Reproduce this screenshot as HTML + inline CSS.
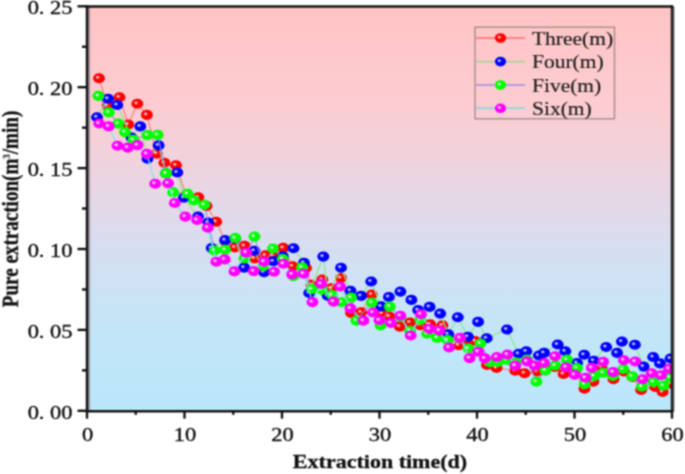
<!DOCTYPE html>
<html><head><meta charset="utf-8"><style>
html,body{margin:0;padding:0;background:#fff;}
svg{display:block;font-family:"Liberation Serif",serif;}
</style></head><body>
<svg width="685" height="474" viewBox="0 0 685 474">
<defs>
<filter id="bl" x="0" y="0" width="685" height="474" filterUnits="userSpaceOnUse" color-interpolation-filters="sRGB"><feConvolveMatrix order="3" kernelMatrix="1 2 1 2 4 2 1 2 1" edgeMode="duplicate"/></filter>
<linearGradient id="bg" x1="0" y1="0" x2="0" y2="1">
<stop offset="0" stop-color="rgb(255,196,196)"/>
<stop offset="0.24" stop-color="rgb(252,204,209)"/>
<stop offset="0.355" stop-color="rgb(243,209,218)"/>
<stop offset="0.48" stop-color="rgb(229,216,231)"/>
<stop offset="0.6" stop-color="rgb(214,222,240)"/>
<stop offset="0.73" stop-color="rgb(201,228,246)"/>
<stop offset="0.86" stop-color="rgb(192,230,249)"/>
<stop offset="1" stop-color="rgb(186,230,250)"/>
</linearGradient>
<radialGradient id="gR" cx="0.5" cy="0.5" r="0.55" fx="0.35" fy="0.37">
<stop offset="0" stop-color="#ffe0e0"/>
<stop offset="0.07" stop-color="#ffe0e0"/>
<stop offset="0.2" stop-color="#ff8080"/>
<stop offset="0.37" stop-color="#ff0000"/>
<stop offset="0.85" stop-color="#ff0000"/>
<stop offset="1" stop-color="#e00000"/>
</radialGradient>
<radialGradient id="gB" cx="0.5" cy="0.5" r="0.55" fx="0.35" fy="0.37">
<stop offset="0" stop-color="#e0e0ff"/>
<stop offset="0.07" stop-color="#e0e0ff"/>
<stop offset="0.2" stop-color="#8080ff"/>
<stop offset="0.37" stop-color="#0000ff"/>
<stop offset="0.85" stop-color="#0000ff"/>
<stop offset="1" stop-color="#0000d8"/>
</radialGradient>
<radialGradient id="gG" cx="0.5" cy="0.5" r="0.55" fx="0.35" fy="0.37">
<stop offset="0" stop-color="#e8ffe8"/>
<stop offset="0.07" stop-color="#e8ffe8"/>
<stop offset="0.2" stop-color="#90ff90"/>
<stop offset="0.37" stop-color="#00ff00"/>
<stop offset="0.85" stop-color="#00ff00"/>
<stop offset="1" stop-color="#00dc00"/>
</radialGradient>
<radialGradient id="gM" cx="0.5" cy="0.5" r="0.55" fx="0.35" fy="0.37">
<stop offset="0" stop-color="#ffe8ff"/>
<stop offset="0.07" stop-color="#ffe8ff"/>
<stop offset="0.2" stop-color="#ff90ff"/>
<stop offset="0.37" stop-color="#ff00ff"/>
<stop offset="0.85" stop-color="#ff00ff"/>
<stop offset="1" stop-color="#e000e0"/>
</radialGradient>
<clipPath id="clip"><rect x="87.0" y="6.3" width="585.0" height="404.5"/></clipPath>
</defs>
<g filter="url(#bl)">
<rect width="685" height="474" fill="#fff"/>
<rect x="87.0" y="6.3" width="585.0" height="404.5" fill="url(#bg)"/>
<g clip-path="url(#clip)">
<polyline points="99,78.2 107.7,105.7 119.5,97.2 128.3,124.5 137.3,103.8 146.9,114.9 156.8,153.6 164.4,162.8 176,165.2 186,195 198.3,197.3 206.5,206 216.2,221.8 225.5,241.5 235,247.5 244.5,245.9 254.6,258.5 265.4,255.3 273.3,255.8 283.3,247.9 292.7,266.2 306,268 311.5,284.7 322.3,279.5 331.4,288.3 341,278 351.1,312.9 361.1,312.3 371.8,294.5 382.4,313.5 389.5,316.5 399.8,326.6 410,322.5 420.3,325.2 430.2,324.3 442.4,325.4 448,336 458.7,345.3 467,340 475.3,341 487,365 496.6,368 515.3,370.7 524.6,373.2 537.2,371.5 545.4,369.3 555,367 563.6,374 575,372 584.5,388.7 593.4,381.6 601.7,366.9 613.5,379.2 623.9,371.5 632.5,377 641.2,389.9 655.2,387 662.7,392 671,383.6" fill="none" stroke="#ff7878" stroke-width="1.2" stroke-opacity="0.9" stroke-linejoin="round"/>
<ellipse cx="99" cy="78.2" rx="5.95" ry="5.05" fill="url(#gR)"/>
<ellipse cx="107.7" cy="105.7" rx="5.95" ry="5.05" fill="url(#gR)"/>
<ellipse cx="119.5" cy="97.2" rx="5.95" ry="5.05" fill="url(#gR)"/>
<ellipse cx="128.3" cy="124.5" rx="5.95" ry="5.05" fill="url(#gR)"/>
<ellipse cx="137.3" cy="103.8" rx="5.95" ry="5.05" fill="url(#gR)"/>
<ellipse cx="146.9" cy="114.9" rx="5.95" ry="5.05" fill="url(#gR)"/>
<ellipse cx="156.8" cy="153.6" rx="5.95" ry="5.05" fill="url(#gR)"/>
<ellipse cx="164.4" cy="162.8" rx="5.95" ry="5.05" fill="url(#gR)"/>
<ellipse cx="176" cy="165.2" rx="5.95" ry="5.05" fill="url(#gR)"/>
<ellipse cx="186" cy="195" rx="5.95" ry="5.05" fill="url(#gR)"/>
<ellipse cx="198.3" cy="197.3" rx="5.95" ry="5.05" fill="url(#gR)"/>
<ellipse cx="206.5" cy="206" rx="5.95" ry="5.05" fill="url(#gR)"/>
<ellipse cx="216.2" cy="221.8" rx="5.95" ry="5.05" fill="url(#gR)"/>
<ellipse cx="225.5" cy="241.5" rx="5.95" ry="5.05" fill="url(#gR)"/>
<ellipse cx="235" cy="247.5" rx="5.95" ry="5.05" fill="url(#gR)"/>
<ellipse cx="244.5" cy="245.9" rx="5.95" ry="5.05" fill="url(#gR)"/>
<ellipse cx="254.6" cy="258.5" rx="5.95" ry="5.05" fill="url(#gR)"/>
<ellipse cx="265.4" cy="255.3" rx="5.95" ry="5.05" fill="url(#gR)"/>
<ellipse cx="273.3" cy="255.8" rx="5.95" ry="5.05" fill="url(#gR)"/>
<ellipse cx="283.3" cy="247.9" rx="5.95" ry="5.05" fill="url(#gR)"/>
<ellipse cx="292.7" cy="266.2" rx="5.95" ry="5.05" fill="url(#gR)"/>
<ellipse cx="306" cy="268" rx="5.95" ry="5.05" fill="url(#gR)"/>
<ellipse cx="311.5" cy="284.7" rx="5.95" ry="5.05" fill="url(#gR)"/>
<ellipse cx="322.3" cy="279.5" rx="5.95" ry="5.05" fill="url(#gR)"/>
<ellipse cx="331.4" cy="288.3" rx="5.95" ry="5.05" fill="url(#gR)"/>
<ellipse cx="341" cy="278" rx="5.95" ry="5.05" fill="url(#gR)"/>
<ellipse cx="351.1" cy="312.9" rx="5.95" ry="5.05" fill="url(#gR)"/>
<ellipse cx="361.1" cy="312.3" rx="5.95" ry="5.05" fill="url(#gR)"/>
<ellipse cx="371.8" cy="294.5" rx="5.95" ry="5.05" fill="url(#gR)"/>
<ellipse cx="382.4" cy="313.5" rx="5.95" ry="5.05" fill="url(#gR)"/>
<ellipse cx="389.5" cy="316.5" rx="5.95" ry="5.05" fill="url(#gR)"/>
<ellipse cx="399.8" cy="326.6" rx="5.95" ry="5.05" fill="url(#gR)"/>
<ellipse cx="410" cy="322.5" rx="5.95" ry="5.05" fill="url(#gR)"/>
<ellipse cx="420.3" cy="325.2" rx="5.95" ry="5.05" fill="url(#gR)"/>
<ellipse cx="430.2" cy="324.3" rx="5.95" ry="5.05" fill="url(#gR)"/>
<ellipse cx="442.4" cy="325.4" rx="5.95" ry="5.05" fill="url(#gR)"/>
<ellipse cx="448" cy="336" rx="5.95" ry="5.05" fill="url(#gR)"/>
<ellipse cx="458.7" cy="345.3" rx="5.95" ry="5.05" fill="url(#gR)"/>
<ellipse cx="467" cy="340" rx="5.95" ry="5.05" fill="url(#gR)"/>
<ellipse cx="475.3" cy="341" rx="5.95" ry="5.05" fill="url(#gR)"/>
<ellipse cx="487" cy="365" rx="5.95" ry="5.05" fill="url(#gR)"/>
<ellipse cx="496.6" cy="368" rx="5.95" ry="5.05" fill="url(#gR)"/>
<ellipse cx="515.3" cy="370.7" rx="5.95" ry="5.05" fill="url(#gR)"/>
<ellipse cx="524.6" cy="373.2" rx="5.95" ry="5.05" fill="url(#gR)"/>
<ellipse cx="537.2" cy="371.5" rx="5.95" ry="5.05" fill="url(#gR)"/>
<ellipse cx="545.4" cy="369.3" rx="5.95" ry="5.05" fill="url(#gR)"/>
<ellipse cx="555" cy="367" rx="5.95" ry="5.05" fill="url(#gR)"/>
<ellipse cx="563.6" cy="374" rx="5.95" ry="5.05" fill="url(#gR)"/>
<ellipse cx="575" cy="372" rx="5.95" ry="5.05" fill="url(#gR)"/>
<ellipse cx="584.5" cy="388.7" rx="5.95" ry="5.05" fill="url(#gR)"/>
<ellipse cx="593.4" cy="381.6" rx="5.95" ry="5.05" fill="url(#gR)"/>
<ellipse cx="601.7" cy="366.9" rx="5.95" ry="5.05" fill="url(#gR)"/>
<ellipse cx="613.5" cy="379.2" rx="5.95" ry="5.05" fill="url(#gR)"/>
<ellipse cx="623.9" cy="371.5" rx="5.95" ry="5.05" fill="url(#gR)"/>
<ellipse cx="632.5" cy="377" rx="5.95" ry="5.05" fill="url(#gR)"/>
<ellipse cx="641.2" cy="389.9" rx="5.95" ry="5.05" fill="url(#gR)"/>
<ellipse cx="655.2" cy="387" rx="5.95" ry="5.05" fill="url(#gR)"/>
<ellipse cx="662.7" cy="392" rx="5.95" ry="5.05" fill="url(#gR)"/>
<ellipse cx="671" cy="383.6" rx="5.95" ry="5.05" fill="url(#gR)"/>
<polyline points="97,117.2 108.1,98.8 117.3,105 131.5,137.5 140.3,126.4 147.5,158.8 158.6,145.4 166.1,173.4 177.3,172.5 183.9,197.7 198,216.6 208.2,222.6 211.7,248.1 225.1,240.1 235.3,238.5 244.2,267.6 254.4,250.8 264.1,272.2 273.4,261.3 282.8,256.3 293.5,248.2 304,262.8 309.2,293 323.3,256.6 327.7,295.7 341,267.7 350.5,290.7 361.1,295.9 371.2,281.5 381.2,306.4 388.9,297 400.4,291.6 411.4,299.9 418.2,310.1 429.6,306.9 440.2,313.6 448.3,334.2 457.8,317.3 467.9,336.7 478.1,321.9 486.7,338.2 507,329.5 518.7,353.8 526.3,351.3 538.9,355.5 544.1,352.9 557.7,344.5 565.3,351.2 577.1,363 584.2,354.8 593.8,360.7 606.2,347 617.1,352.9 621.9,341.6 634.9,344.8 643.6,366.6 653.2,357 660,363.4 670.5,358.5" fill="none" stroke="#8ee88e" stroke-width="1.3" stroke-opacity="1" stroke-linejoin="round"/>
<ellipse cx="97" cy="117.2" rx="5.95" ry="5.05" fill="url(#gB)"/>
<ellipse cx="108.1" cy="98.8" rx="5.95" ry="5.05" fill="url(#gB)"/>
<ellipse cx="117.3" cy="105" rx="5.95" ry="5.05" fill="url(#gB)"/>
<ellipse cx="131.5" cy="137.5" rx="5.95" ry="5.05" fill="url(#gB)"/>
<ellipse cx="140.3" cy="126.4" rx="5.95" ry="5.05" fill="url(#gB)"/>
<ellipse cx="147.5" cy="158.8" rx="5.95" ry="5.05" fill="url(#gB)"/>
<ellipse cx="158.6" cy="145.4" rx="5.95" ry="5.05" fill="url(#gB)"/>
<ellipse cx="166.1" cy="173.4" rx="5.95" ry="5.05" fill="url(#gB)"/>
<ellipse cx="177.3" cy="172.5" rx="5.95" ry="5.05" fill="url(#gB)"/>
<ellipse cx="183.9" cy="197.7" rx="5.95" ry="5.05" fill="url(#gB)"/>
<ellipse cx="198" cy="216.6" rx="5.95" ry="5.05" fill="url(#gB)"/>
<ellipse cx="208.2" cy="222.6" rx="5.95" ry="5.05" fill="url(#gB)"/>
<ellipse cx="211.7" cy="248.1" rx="5.95" ry="5.05" fill="url(#gB)"/>
<ellipse cx="225.1" cy="240.1" rx="5.95" ry="5.05" fill="url(#gB)"/>
<ellipse cx="235.3" cy="238.5" rx="5.95" ry="5.05" fill="url(#gB)"/>
<ellipse cx="244.2" cy="267.6" rx="5.95" ry="5.05" fill="url(#gB)"/>
<ellipse cx="254.4" cy="250.8" rx="5.95" ry="5.05" fill="url(#gB)"/>
<ellipse cx="264.1" cy="272.2" rx="5.95" ry="5.05" fill="url(#gB)"/>
<ellipse cx="273.4" cy="261.3" rx="5.95" ry="5.05" fill="url(#gB)"/>
<ellipse cx="282.8" cy="256.3" rx="5.95" ry="5.05" fill="url(#gB)"/>
<ellipse cx="293.5" cy="248.2" rx="5.95" ry="5.05" fill="url(#gB)"/>
<ellipse cx="304" cy="262.8" rx="5.95" ry="5.05" fill="url(#gB)"/>
<ellipse cx="309.2" cy="293" rx="5.95" ry="5.05" fill="url(#gB)"/>
<ellipse cx="323.3" cy="256.6" rx="5.95" ry="5.05" fill="url(#gB)"/>
<ellipse cx="327.7" cy="295.7" rx="5.95" ry="5.05" fill="url(#gB)"/>
<ellipse cx="341" cy="267.7" rx="5.95" ry="5.05" fill="url(#gB)"/>
<ellipse cx="350.5" cy="290.7" rx="5.95" ry="5.05" fill="url(#gB)"/>
<ellipse cx="361.1" cy="295.9" rx="5.95" ry="5.05" fill="url(#gB)"/>
<ellipse cx="371.2" cy="281.5" rx="5.95" ry="5.05" fill="url(#gB)"/>
<ellipse cx="381.2" cy="306.4" rx="5.95" ry="5.05" fill="url(#gB)"/>
<ellipse cx="388.9" cy="297" rx="5.95" ry="5.05" fill="url(#gB)"/>
<ellipse cx="400.4" cy="291.6" rx="5.95" ry="5.05" fill="url(#gB)"/>
<ellipse cx="411.4" cy="299.9" rx="5.95" ry="5.05" fill="url(#gB)"/>
<ellipse cx="418.2" cy="310.1" rx="5.95" ry="5.05" fill="url(#gB)"/>
<ellipse cx="429.6" cy="306.9" rx="5.95" ry="5.05" fill="url(#gB)"/>
<ellipse cx="440.2" cy="313.6" rx="5.95" ry="5.05" fill="url(#gB)"/>
<ellipse cx="448.3" cy="334.2" rx="5.95" ry="5.05" fill="url(#gB)"/>
<ellipse cx="457.8" cy="317.3" rx="5.95" ry="5.05" fill="url(#gB)"/>
<ellipse cx="467.9" cy="336.7" rx="5.95" ry="5.05" fill="url(#gB)"/>
<ellipse cx="478.1" cy="321.9" rx="5.95" ry="5.05" fill="url(#gB)"/>
<ellipse cx="486.7" cy="338.2" rx="5.95" ry="5.05" fill="url(#gB)"/>
<ellipse cx="507" cy="329.5" rx="5.95" ry="5.05" fill="url(#gB)"/>
<ellipse cx="518.7" cy="353.8" rx="5.95" ry="5.05" fill="url(#gB)"/>
<ellipse cx="526.3" cy="351.3" rx="5.95" ry="5.05" fill="url(#gB)"/>
<ellipse cx="538.9" cy="355.5" rx="5.95" ry="5.05" fill="url(#gB)"/>
<ellipse cx="544.1" cy="352.9" rx="5.95" ry="5.05" fill="url(#gB)"/>
<ellipse cx="557.7" cy="344.5" rx="5.95" ry="5.05" fill="url(#gB)"/>
<ellipse cx="565.3" cy="351.2" rx="5.95" ry="5.05" fill="url(#gB)"/>
<ellipse cx="577.1" cy="363" rx="5.95" ry="5.05" fill="url(#gB)"/>
<ellipse cx="584.2" cy="354.8" rx="5.95" ry="5.05" fill="url(#gB)"/>
<ellipse cx="593.8" cy="360.7" rx="5.95" ry="5.05" fill="url(#gB)"/>
<ellipse cx="606.2" cy="347" rx="5.95" ry="5.05" fill="url(#gB)"/>
<ellipse cx="617.1" cy="352.9" rx="5.95" ry="5.05" fill="url(#gB)"/>
<ellipse cx="621.9" cy="341.6" rx="5.95" ry="5.05" fill="url(#gB)"/>
<ellipse cx="634.9" cy="344.8" rx="5.95" ry="5.05" fill="url(#gB)"/>
<ellipse cx="643.6" cy="366.6" rx="5.95" ry="5.05" fill="url(#gB)"/>
<ellipse cx="653.2" cy="357" rx="5.95" ry="5.05" fill="url(#gB)"/>
<ellipse cx="660" cy="363.4" rx="5.95" ry="5.05" fill="url(#gB)"/>
<ellipse cx="670.5" cy="358.5" rx="5.95" ry="5.05" fill="url(#gB)"/>
<polyline points="98.5,95.9 108.8,112.4 118.2,123.6 125,132.1 133.5,139.8 147.6,135.1 157.7,134.9 166.1,173.4 173.2,192.4 187.6,193.8 194,200.4 204.4,204.8 214.5,250.6 225.1,249.7 235.3,238 244.5,258.5 254.5,236.6 263.4,266.3 273,248.5 282.8,259 293.5,276.3 302.1,267.2 312,289.1 321.8,289.8 332.1,295 341.7,302.3 351.1,297.6 356.4,320.6 371.8,302.6 380.6,325.4 389.8,306.6 400.4,317 410,330.7 420.3,319.7 427.2,333.8 437.3,337.9 447.6,340.1 460,338.5 468.5,348.5 480.4,343.5 490.1,362.3 498,362 507,360 516,362.5 527,359.5 536.4,381.7 545.4,370.6 555.2,365.5 567,359.6 577.1,368 584.7,384.1 594.1,376.1 603.2,372.8 613,376 623.1,369 632.1,376.4 642,386.7 653.5,382 663.4,385.7 670,377.5" fill="none" stroke="#9a88f0" stroke-width="1.2" stroke-opacity="0.9" stroke-linejoin="round"/>
<ellipse cx="98.5" cy="95.9" rx="5.95" ry="5.05" fill="url(#gG)"/>
<ellipse cx="108.8" cy="112.4" rx="5.95" ry="5.05" fill="url(#gG)"/>
<ellipse cx="118.2" cy="123.6" rx="5.95" ry="5.05" fill="url(#gG)"/>
<ellipse cx="125" cy="132.1" rx="5.95" ry="5.05" fill="url(#gG)"/>
<ellipse cx="133.5" cy="139.8" rx="5.95" ry="5.05" fill="url(#gG)"/>
<ellipse cx="147.6" cy="135.1" rx="5.95" ry="5.05" fill="url(#gG)"/>
<ellipse cx="157.7" cy="134.9" rx="5.95" ry="5.05" fill="url(#gG)"/>
<ellipse cx="166.1" cy="173.4" rx="5.95" ry="5.05" fill="url(#gG)"/>
<ellipse cx="173.2" cy="192.4" rx="5.95" ry="5.05" fill="url(#gG)"/>
<ellipse cx="187.6" cy="193.8" rx="5.95" ry="5.05" fill="url(#gG)"/>
<ellipse cx="194" cy="200.4" rx="5.95" ry="5.05" fill="url(#gG)"/>
<ellipse cx="204.4" cy="204.8" rx="5.95" ry="5.05" fill="url(#gG)"/>
<ellipse cx="214.5" cy="250.6" rx="5.95" ry="5.05" fill="url(#gG)"/>
<ellipse cx="225.1" cy="249.7" rx="5.95" ry="5.05" fill="url(#gG)"/>
<ellipse cx="235.3" cy="238" rx="5.95" ry="5.05" fill="url(#gG)"/>
<ellipse cx="244.5" cy="258.5" rx="5.95" ry="5.05" fill="url(#gG)"/>
<ellipse cx="254.5" cy="236.6" rx="5.95" ry="5.05" fill="url(#gG)"/>
<ellipse cx="263.4" cy="266.3" rx="5.95" ry="5.05" fill="url(#gG)"/>
<ellipse cx="273" cy="248.5" rx="5.95" ry="5.05" fill="url(#gG)"/>
<ellipse cx="282.8" cy="259" rx="5.95" ry="5.05" fill="url(#gG)"/>
<ellipse cx="293.5" cy="276.3" rx="5.95" ry="5.05" fill="url(#gG)"/>
<ellipse cx="302.1" cy="267.2" rx="5.95" ry="5.05" fill="url(#gG)"/>
<ellipse cx="312" cy="289.1" rx="5.95" ry="5.05" fill="url(#gG)"/>
<ellipse cx="321.8" cy="289.8" rx="5.95" ry="5.05" fill="url(#gG)"/>
<ellipse cx="332.1" cy="295" rx="5.95" ry="5.05" fill="url(#gG)"/>
<ellipse cx="341.7" cy="302.3" rx="5.95" ry="5.05" fill="url(#gG)"/>
<ellipse cx="351.1" cy="297.6" rx="5.95" ry="5.05" fill="url(#gG)"/>
<ellipse cx="356.4" cy="320.6" rx="5.95" ry="5.05" fill="url(#gG)"/>
<ellipse cx="371.8" cy="302.6" rx="5.95" ry="5.05" fill="url(#gG)"/>
<ellipse cx="380.6" cy="325.4" rx="5.95" ry="5.05" fill="url(#gG)"/>
<ellipse cx="389.8" cy="306.6" rx="5.95" ry="5.05" fill="url(#gG)"/>
<ellipse cx="400.4" cy="317" rx="5.95" ry="5.05" fill="url(#gG)"/>
<ellipse cx="410" cy="330.7" rx="5.95" ry="5.05" fill="url(#gG)"/>
<ellipse cx="420.3" cy="319.7" rx="5.95" ry="5.05" fill="url(#gG)"/>
<ellipse cx="427.2" cy="333.8" rx="5.95" ry="5.05" fill="url(#gG)"/>
<ellipse cx="437.3" cy="337.9" rx="5.95" ry="5.05" fill="url(#gG)"/>
<ellipse cx="447.6" cy="340.1" rx="5.95" ry="5.05" fill="url(#gG)"/>
<ellipse cx="460" cy="338.5" rx="5.95" ry="5.05" fill="url(#gG)"/>
<ellipse cx="468.5" cy="348.5" rx="5.95" ry="5.05" fill="url(#gG)"/>
<ellipse cx="480.4" cy="343.5" rx="5.95" ry="5.05" fill="url(#gG)"/>
<ellipse cx="490.1" cy="362.3" rx="5.95" ry="5.05" fill="url(#gG)"/>
<ellipse cx="498" cy="362" rx="5.95" ry="5.05" fill="url(#gG)"/>
<ellipse cx="507" cy="360" rx="5.95" ry="5.05" fill="url(#gG)"/>
<ellipse cx="516" cy="362.5" rx="5.95" ry="5.05" fill="url(#gG)"/>
<ellipse cx="527" cy="359.5" rx="5.95" ry="5.05" fill="url(#gG)"/>
<ellipse cx="536.4" cy="381.7" rx="5.95" ry="5.05" fill="url(#gG)"/>
<ellipse cx="545.4" cy="370.6" rx="5.95" ry="5.05" fill="url(#gG)"/>
<ellipse cx="555.2" cy="365.5" rx="5.95" ry="5.05" fill="url(#gG)"/>
<ellipse cx="567" cy="359.6" rx="5.95" ry="5.05" fill="url(#gG)"/>
<ellipse cx="577.1" cy="368" rx="5.95" ry="5.05" fill="url(#gG)"/>
<ellipse cx="584.7" cy="384.1" rx="5.95" ry="5.05" fill="url(#gG)"/>
<ellipse cx="594.1" cy="376.1" rx="5.95" ry="5.05" fill="url(#gG)"/>
<ellipse cx="603.2" cy="372.8" rx="5.95" ry="5.05" fill="url(#gG)"/>
<ellipse cx="613" cy="376" rx="5.95" ry="5.05" fill="url(#gG)"/>
<ellipse cx="623.1" cy="369" rx="5.95" ry="5.05" fill="url(#gG)"/>
<ellipse cx="632.1" cy="376.4" rx="5.95" ry="5.05" fill="url(#gG)"/>
<ellipse cx="642" cy="386.7" rx="5.95" ry="5.05" fill="url(#gG)"/>
<ellipse cx="653.5" cy="382" rx="5.95" ry="5.05" fill="url(#gG)"/>
<ellipse cx="663.4" cy="385.7" rx="5.95" ry="5.05" fill="url(#gG)"/>
<ellipse cx="670" cy="377.5" rx="5.95" ry="5.05" fill="url(#gG)"/>
<polyline points="99.2,123.5 108.7,126.4 117.5,145.8 127.8,147.6 137.6,145.1 146.9,153.9 155.2,183.7 168.1,183.2 174.8,203 185.3,216.6 197.1,220 207.8,227.7 216.3,261.7 224.7,259.4 234.5,271.4 246.2,252.6 253.8,271.1 264.1,261.6 274.1,271.8 283.5,263.8 292.2,274.4 303.6,273.7 312.5,302.1 321.1,283.9 333.6,301.6 340.2,286.5 350.5,308.4 363.5,320.6 373,312.5 379.5,320.3 391,323 400.4,315.8 410.7,335.5 421,314.2 429.6,328.9 439.5,330.6 449.1,347.5 460.1,337.9 469.6,358.1 478.3,351.7 484.9,358.4 496.9,357 507.5,354.6 515.3,365.6 527.1,361.4 534.7,365.6 544.1,363 555.2,356.3 566.1,367.2 574.6,374.8 585.5,377.8 591.8,367.9 603.2,361.8 613.2,372.1 623.9,360.2 635.3,361.5 642.8,379.2 651.7,373.2 661.1,375.3 669,368.7" fill="none" stroke="#80e4ea" stroke-width="1.3" stroke-opacity="1" stroke-linejoin="round"/>
<ellipse cx="99.2" cy="123.5" rx="5.95" ry="5.05" fill="url(#gM)"/>
<ellipse cx="108.7" cy="126.4" rx="5.95" ry="5.05" fill="url(#gM)"/>
<ellipse cx="117.5" cy="145.8" rx="5.95" ry="5.05" fill="url(#gM)"/>
<ellipse cx="127.8" cy="147.6" rx="5.95" ry="5.05" fill="url(#gM)"/>
<ellipse cx="137.6" cy="145.1" rx="5.95" ry="5.05" fill="url(#gM)"/>
<ellipse cx="146.9" cy="153.9" rx="5.95" ry="5.05" fill="url(#gM)"/>
<ellipse cx="155.2" cy="183.7" rx="5.95" ry="5.05" fill="url(#gM)"/>
<ellipse cx="168.1" cy="183.2" rx="5.95" ry="5.05" fill="url(#gM)"/>
<ellipse cx="174.8" cy="203" rx="5.95" ry="5.05" fill="url(#gM)"/>
<ellipse cx="185.3" cy="216.6" rx="5.95" ry="5.05" fill="url(#gM)"/>
<ellipse cx="197.1" cy="220" rx="5.95" ry="5.05" fill="url(#gM)"/>
<ellipse cx="207.8" cy="227.7" rx="5.95" ry="5.05" fill="url(#gM)"/>
<ellipse cx="216.3" cy="261.7" rx="5.95" ry="5.05" fill="url(#gM)"/>
<ellipse cx="224.7" cy="259.4" rx="5.95" ry="5.05" fill="url(#gM)"/>
<ellipse cx="234.5" cy="271.4" rx="5.95" ry="5.05" fill="url(#gM)"/>
<ellipse cx="246.2" cy="252.6" rx="5.95" ry="5.05" fill="url(#gM)"/>
<ellipse cx="253.8" cy="271.1" rx="5.95" ry="5.05" fill="url(#gM)"/>
<ellipse cx="264.1" cy="261.6" rx="5.95" ry="5.05" fill="url(#gM)"/>
<ellipse cx="274.1" cy="271.8" rx="5.95" ry="5.05" fill="url(#gM)"/>
<ellipse cx="283.5" cy="263.8" rx="5.95" ry="5.05" fill="url(#gM)"/>
<ellipse cx="292.2" cy="274.4" rx="5.95" ry="5.05" fill="url(#gM)"/>
<ellipse cx="303.6" cy="273.7" rx="5.95" ry="5.05" fill="url(#gM)"/>
<ellipse cx="312.5" cy="302.1" rx="5.95" ry="5.05" fill="url(#gM)"/>
<ellipse cx="321.1" cy="283.9" rx="5.95" ry="5.05" fill="url(#gM)"/>
<ellipse cx="333.6" cy="301.6" rx="5.95" ry="5.05" fill="url(#gM)"/>
<ellipse cx="340.2" cy="286.5" rx="5.95" ry="5.05" fill="url(#gM)"/>
<ellipse cx="350.5" cy="308.4" rx="5.95" ry="5.05" fill="url(#gM)"/>
<ellipse cx="363.5" cy="320.6" rx="5.95" ry="5.05" fill="url(#gM)"/>
<ellipse cx="373" cy="312.5" rx="5.95" ry="5.05" fill="url(#gM)"/>
<ellipse cx="379.5" cy="320.3" rx="5.95" ry="5.05" fill="url(#gM)"/>
<ellipse cx="391" cy="323" rx="5.95" ry="5.05" fill="url(#gM)"/>
<ellipse cx="400.4" cy="315.8" rx="5.95" ry="5.05" fill="url(#gM)"/>
<ellipse cx="410.7" cy="335.5" rx="5.95" ry="5.05" fill="url(#gM)"/>
<ellipse cx="421" cy="314.2" rx="5.95" ry="5.05" fill="url(#gM)"/>
<ellipse cx="429.6" cy="328.9" rx="5.95" ry="5.05" fill="url(#gM)"/>
<ellipse cx="439.5" cy="330.6" rx="5.95" ry="5.05" fill="url(#gM)"/>
<ellipse cx="449.1" cy="347.5" rx="5.95" ry="5.05" fill="url(#gM)"/>
<ellipse cx="460.1" cy="337.9" rx="5.95" ry="5.05" fill="url(#gM)"/>
<ellipse cx="469.6" cy="358.1" rx="5.95" ry="5.05" fill="url(#gM)"/>
<ellipse cx="478.3" cy="351.7" rx="5.95" ry="5.05" fill="url(#gM)"/>
<ellipse cx="484.9" cy="358.4" rx="5.95" ry="5.05" fill="url(#gM)"/>
<ellipse cx="496.9" cy="357" rx="5.95" ry="5.05" fill="url(#gM)"/>
<ellipse cx="507.5" cy="354.6" rx="5.95" ry="5.05" fill="url(#gM)"/>
<ellipse cx="515.3" cy="365.6" rx="5.95" ry="5.05" fill="url(#gM)"/>
<ellipse cx="527.1" cy="361.4" rx="5.95" ry="5.05" fill="url(#gM)"/>
<ellipse cx="534.7" cy="365.6" rx="5.95" ry="5.05" fill="url(#gM)"/>
<ellipse cx="544.1" cy="363" rx="5.95" ry="5.05" fill="url(#gM)"/>
<ellipse cx="555.2" cy="356.3" rx="5.95" ry="5.05" fill="url(#gM)"/>
<ellipse cx="566.1" cy="367.2" rx="5.95" ry="5.05" fill="url(#gM)"/>
<ellipse cx="574.6" cy="374.8" rx="5.95" ry="5.05" fill="url(#gM)"/>
<ellipse cx="585.5" cy="377.8" rx="5.95" ry="5.05" fill="url(#gM)"/>
<ellipse cx="591.8" cy="367.9" rx="5.95" ry="5.05" fill="url(#gM)"/>
<ellipse cx="603.2" cy="361.8" rx="5.95" ry="5.05" fill="url(#gM)"/>
<ellipse cx="613.2" cy="372.1" rx="5.95" ry="5.05" fill="url(#gM)"/>
<ellipse cx="623.9" cy="360.2" rx="5.95" ry="5.05" fill="url(#gM)"/>
<ellipse cx="635.3" cy="361.5" rx="5.95" ry="5.05" fill="url(#gM)"/>
<ellipse cx="642.8" cy="379.2" rx="5.95" ry="5.05" fill="url(#gM)"/>
<ellipse cx="651.7" cy="373.2" rx="5.95" ry="5.05" fill="url(#gM)"/>
<ellipse cx="661.1" cy="375.3" rx="5.95" ry="5.05" fill="url(#gM)"/>
<ellipse cx="669" cy="368.7" rx="5.95" ry="5.05" fill="url(#gM)"/>
</g>
<rect x="475.0" y="27.2" width="139.5" height="91.6" fill="none" stroke="#a08888" stroke-width="1.3"/>
<line x1="476" y1="38.0" x2="525" y2="38.0" stroke="#ff6e6e" stroke-width="1.4"/>
<ellipse cx="500.5" cy="38" rx="5.6" ry="4.8" fill="url(#gR)"/>
<text transform="translate(532,44.6) scale(1.13,1)" font-size="19.0" fill="#1a1a1a" stroke="#1a1a1a" stroke-width="0.15">Three(m)</text>
<line x1="476" y1="61.6" x2="525" y2="61.6" stroke="#98d888" stroke-width="1.4"/>
<ellipse cx="500.5" cy="61.6" rx="5.6" ry="4.8" fill="url(#gB)"/>
<text transform="translate(532,68.2) scale(1.13,1)" font-size="19.0" fill="#1a1a1a" stroke="#1a1a1a" stroke-width="0.15">Four(m)</text>
<line x1="476" y1="85.0" x2="525" y2="85.0" stroke="#a088e8" stroke-width="1.4"/>
<ellipse cx="500.5" cy="85" rx="5.6" ry="4.8" fill="url(#gG)"/>
<text transform="translate(532,91.6) scale(1.13,1)" font-size="19.0" fill="#1a1a1a" stroke="#1a1a1a" stroke-width="0.15">Five(m)</text>
<line x1="476" y1="108.3" x2="525" y2="108.3" stroke="#78dce0" stroke-width="1.4"/>
<ellipse cx="500.5" cy="108.3" rx="5.6" ry="4.8" fill="url(#gM)"/>
<text transform="translate(532,114.89999999999999) scale(1.13,1)" font-size="19.0" fill="#1a1a1a" stroke="#1a1a1a" stroke-width="0.15">Six(m)</text>
<rect x="88.1" y="6.3" width="2" height="404.5" fill="#8a7d88" fill-opacity="0.75"/>
<rect x="672.2" y="6.3" width="2" height="405.5" fill="#3a3a3a"/>
<line x1="85.7" y1="6.6" x2="673.0" y2="6.6" stroke="#141414" stroke-width="2.5"/>
<line x1="85.7" y1="411.2" x2="673.0" y2="411.2" stroke="#141414" stroke-width="2.5"/>
<line x1="87.0" y1="5.2" x2="87.0" y2="412.0" stroke="#141414" stroke-width="2.5"/>
<line x1="671.6" y1="5.2" x2="671.6" y2="412.0" stroke="#141414" stroke-width="1.6"/>
<line x1="77.5" y1="410.8" x2="87.0" y2="410.8" stroke="#141414" stroke-width="2.4"/>
<text transform="translate(72.6,418.6) scale(1.21,1)" text-anchor="end" font-size="18.6" fill="#111" stroke="#111" stroke-width="0.35">0. 00</text>
<line x1="77.5" y1="329.9" x2="87.0" y2="329.9" stroke="#141414" stroke-width="2.4"/>
<text transform="translate(72.6,337.7) scale(1.21,1)" text-anchor="end" font-size="18.6" fill="#111" stroke="#111" stroke-width="0.35">0. 05</text>
<line x1="77.5" y1="249" x2="87.0" y2="249" stroke="#141414" stroke-width="2.4"/>
<text transform="translate(72.6,256.8) scale(1.21,1)" text-anchor="end" font-size="18.6" fill="#111" stroke="#111" stroke-width="0.35">0. 10</text>
<line x1="77.5" y1="168.1" x2="87.0" y2="168.1" stroke="#141414" stroke-width="2.4"/>
<text transform="translate(72.6,175.9) scale(1.21,1)" text-anchor="end" font-size="18.6" fill="#111" stroke="#111" stroke-width="0.35">0. 15</text>
<line x1="77.5" y1="87.2" x2="87.0" y2="87.2" stroke="#141414" stroke-width="2.4"/>
<text transform="translate(72.6,95) scale(1.21,1)" text-anchor="end" font-size="18.6" fill="#111" stroke="#111" stroke-width="0.35">0. 20</text>
<line x1="77.5" y1="6.3" x2="87.0" y2="6.3" stroke="#141414" stroke-width="2.4"/>
<text transform="translate(72.6,14.1) scale(1.21,1)" text-anchor="end" font-size="18.6" fill="#111" stroke="#111" stroke-width="0.35">0. 25</text>
<line x1="82.0" y1="370.35" x2="87.0" y2="370.35" stroke="#141414" stroke-width="2.4"/>
<line x1="82.0" y1="289.45" x2="87.0" y2="289.45" stroke="#141414" stroke-width="2.4"/>
<line x1="82.0" y1="208.55" x2="87.0" y2="208.55" stroke="#141414" stroke-width="2.4"/>
<line x1="82.0" y1="127.65" x2="87.0" y2="127.65" stroke="#141414" stroke-width="2.4"/>
<line x1="82.0" y1="46.75" x2="87.0" y2="46.75" stroke="#141414" stroke-width="2.4"/>
<line x1="87" y1="410.8" x2="87" y2="418.6" stroke="#141414" stroke-width="2.4"/>
<text transform="translate(87.5,440.8) scale(1.21,1)" text-anchor="middle" font-size="18.6" fill="#111" stroke="#111" stroke-width="0.35">0</text>
<line x1="184.5" y1="410.8" x2="184.5" y2="418.6" stroke="#141414" stroke-width="2.4"/>
<text transform="translate(185,440.8) scale(1.21,1)" text-anchor="middle" font-size="18.6" fill="#111" stroke="#111" stroke-width="0.35">10</text>
<line x1="282" y1="410.8" x2="282" y2="418.6" stroke="#141414" stroke-width="2.4"/>
<text transform="translate(282.5,440.8) scale(1.21,1)" text-anchor="middle" font-size="18.6" fill="#111" stroke="#111" stroke-width="0.35">20</text>
<line x1="379.5" y1="410.8" x2="379.5" y2="418.6" stroke="#141414" stroke-width="2.4"/>
<text transform="translate(380,440.8) scale(1.21,1)" text-anchor="middle" font-size="18.6" fill="#111" stroke="#111" stroke-width="0.35">30</text>
<line x1="477" y1="410.8" x2="477" y2="418.6" stroke="#141414" stroke-width="2.4"/>
<text transform="translate(477.5,440.8) scale(1.21,1)" text-anchor="middle" font-size="18.6" fill="#111" stroke="#111" stroke-width="0.35">40</text>
<line x1="574.5" y1="410.8" x2="574.5" y2="418.6" stroke="#141414" stroke-width="2.4"/>
<text transform="translate(575,440.8) scale(1.21,1)" text-anchor="middle" font-size="18.6" fill="#111" stroke="#111" stroke-width="0.35">50</text>
<line x1="672" y1="410.8" x2="672" y2="418.6" stroke="#141414" stroke-width="2.4"/>
<text transform="translate(672.5,440.8) scale(1.21,1)" text-anchor="middle" font-size="18.6" fill="#111" stroke="#111" stroke-width="0.35">60</text>
<line x1="135.75" y1="410.8" x2="135.75" y2="414.8" stroke="#141414" stroke-width="2.4"/>
<line x1="233.25" y1="410.8" x2="233.25" y2="414.8" stroke="#141414" stroke-width="2.4"/>
<line x1="330.75" y1="410.8" x2="330.75" y2="414.8" stroke="#141414" stroke-width="2.4"/>
<line x1="428.25" y1="410.8" x2="428.25" y2="414.8" stroke="#141414" stroke-width="2.4"/>
<line x1="525.75" y1="410.8" x2="525.75" y2="414.8" stroke="#141414" stroke-width="2.4"/>
<line x1="623.25" y1="410.8" x2="623.25" y2="414.8" stroke="#141414" stroke-width="2.4"/>
<text transform="translate(380,468.4) scale(1.13,1)" text-anchor="middle" font-size="19.5" font-weight="bold" fill="#111" stroke="#111" stroke-width="0.3">Extraction time(d)</text>
<text transform="translate(18.1,209) rotate(-90) scale(1,1.17)" text-anchor="middle" font-size="19.1" font-weight="bold" fill="#111" stroke="#111" stroke-width="0.3">Pure extraction(m<tspan font-size="9" dy="-7" stroke-width="0.15">3</tspan><tspan dy="7">/min)</tspan></text>
</g>
</svg>
</body></html>
